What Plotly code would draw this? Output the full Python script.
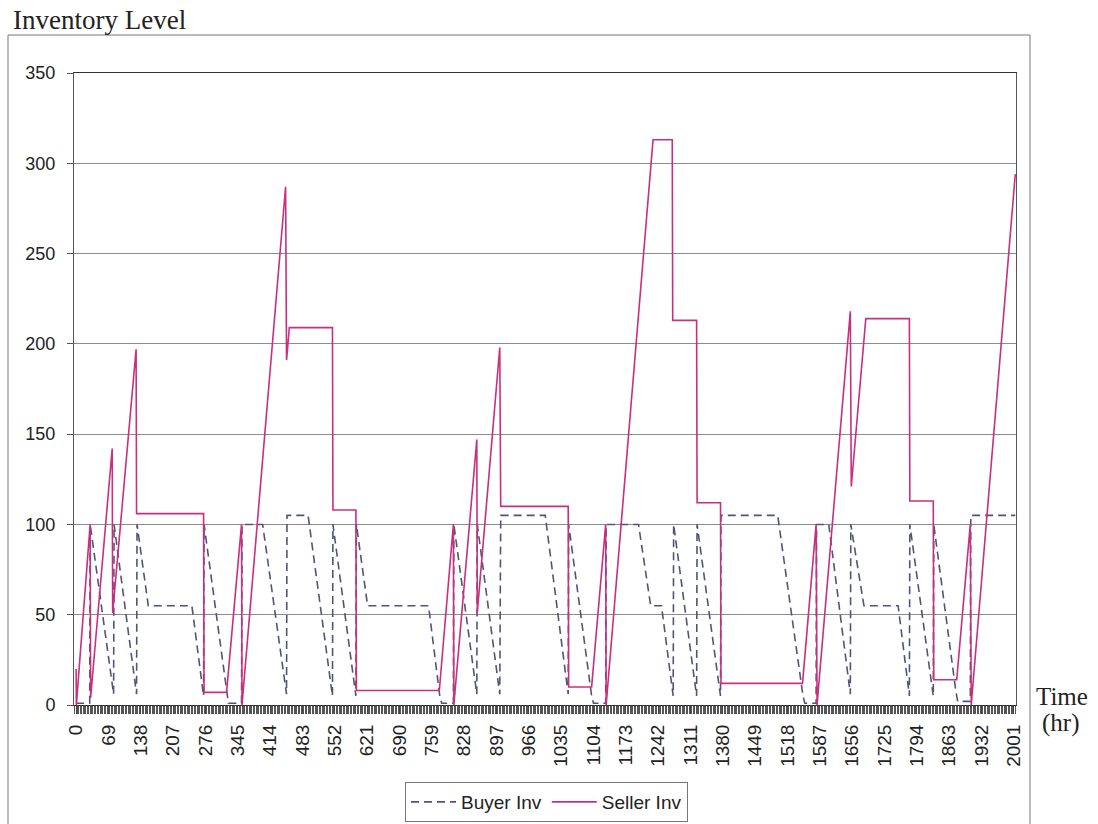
import plotly.graph_objects as go

# ---- data ----
seller_t = [0, 0.5, 30, 31, 77, 78, 128, 129, 272, 273, 321, 353, 354, 447, 449, 455,
            547, 548, 597, 598, 775, 805, 806, 855, 856, 904, 906, 1050, 1051, 1100,
            1130, 1131, 1231, 1272, 1273, 1324, 1325, 1375, 1376, 1550, 1579, 1581,
            1652, 1654, 1685, 1778, 1779, 1829, 1830, 1879, 1908, 1910, 2004]
seller_v = [20, 0, 100, 4, 142, 51, 197, 106, 106, 7, 7, 100, 0, 287, 191, 209,
            209, 108, 108, 8, 8, 100, 0, 147, 51, 198, 110, 110, 10, 10,
            100, 0, 313, 313, 213, 213, 112, 112, 12, 12, 100, 0,
            218, 121, 214, 214, 113, 113, 14, 14, 100, 0, 294]

buyer_t = [0, 29, 30, 80, 81, 129, 130, 154, 247, 272, 273, 321, 325, 353, 354, 398,
           449, 450, 495, 547, 548, 597, 598, 622, 752, 776, 780, 805, 806, 855, 856,
           904, 906, 1001, 1050, 1051, 1100, 1104, 1130, 1131, 1200, 1226, 1249, 1274,
           1275, 1324, 1325, 1375, 1376, 1497, 1551, 1555, 1579, 1580, 1606, 1652, 1653,
           1681, 1754, 1778, 1779, 1829, 1830, 1877, 1881, 1908, 1909, 2004]
buyer_v = [1, 1, 100, 6, 100, 6, 100, 55, 55, 5, 100, 7, 1, 1, 100, 100,
           6, 105, 105, 5, 100, 5, 100, 55, 55, 5, 1, 1, 100, 6, 100,
           6, 105, 105, 6, 100, 5, 1, 1, 100, 100, 55, 55, 5,
           100, 5, 100, 5, 105, 105, 5, 1, 1, 100, 100, 6, 100,
           55, 55, 5, 100, 5, 100, 8, 2, 2, 105, 105]

x_ticks = list(range(0, 2002, 69))
y_ticks = [0, 50, 100, 150, 200, 250, 300, 350]

# ---- figure ----
W, H = 1098, 824
L, R, T, B = 74, 1016, 73, 705
pw, ph = R - L, B - T

def px(xp):
    return (xp - L) / pw

def py(yp):
    return (B - yp) / ph

fig = go.Figure()
fig.add_trace(go.Scatter(
    x=buyer_t, y=buyer_v, mode="lines", name="Buyer Inv",
    line=dict(color="#505578", width=1.6, dash="8px,5px"),
))
fig.add_trace(go.Scatter(
    x=seller_t, y=seller_v, mode="lines", name="Seller Inv",
    line=dict(color="#C8307E", width=1.6),
))

fig.update_layout(
    width=W, height=H,
    margin=dict(l=L, r=W - R, t=T, b=H - B, pad=0, autoexpand=False),
    paper_bgcolor="white", plot_bgcolor="white",
    showlegend=True,
    legend=dict(
        orientation="h", xref="container", yref="container",
        x=405 / W, y=1 - 782 / H, xanchor="left", yanchor="top",
        bordercolor="#777777", borderwidth=1,
        font=dict(family="Arial, Liberation Sans, sans-serif", size=19, color="#222222"),
        itemwidth=45, tracegroupgap=0,
    ),
    xaxis=dict(
        range=[-4.5, 2005.5], tickmode="array", tickvals=x_ticks,
        ticktext=[str(v) for v in x_ticks], tickangle=-90,
        showgrid=False, zeroline=False, automargin=False,
        showline=True, linecolor="#333333", linewidth=1, mirror=True,
        ticks="outside", ticklen=8, tickcolor="#444444",
        ticklabelstandoff=3,
        minor=dict(dtick=3, tick0=0, ticks="outside", ticklen=8, tickcolor="#555555", tickwidth=1),
        tickfont=dict(family="Arial, Liberation Sans, sans-serif", size=19, color="#222222"),
    ),
    yaxis=dict(
        range=[0, 350], tickmode="array", tickvals=y_ticks,
        showgrid=True, gridcolor="#8c8c8c", gridwidth=1, automargin=False,
        zeroline=False, showline=True, linecolor="#555555", linewidth=1, mirror=True,
        ticks="outside", ticklen=6, tickcolor="#555555",
        ticklabelstandoff=8,
        tickfont=dict(family="Arial, Liberation Sans, sans-serif", size=18, color="#222222"),
    ),
    shapes=[dict(
        type="rect", xref="paper", yref="paper",
        x0=px(8), x1=px(1030), y0=py(840), y1=py(35),
        line=dict(color="#777777", width=1), fillcolor="rgba(0,0,0,0)", layer="below",
    )],
    annotations=[
        dict(text="Inventory Level", xref="paper", yref="paper", x=px(11), y=py(20),
             xanchor="left", yanchor="middle", showarrow=False,
             font=dict(family="Liberation Serif, Times New Roman, serif", size=27, color="#222222")),
        dict(text="Time", xref="paper", yref="paper", x=px(1062), y=py(696),
             xanchor="center", yanchor="middle", showarrow=False,
             font=dict(family="Liberation Serif, Times New Roman, serif", size=25, color="#222222")),
        dict(text="(hr)", xref="paper", yref="paper", x=px(1060), y=py(723),
             xanchor="center", yanchor="middle", showarrow=False,
             font=dict(family="Liberation Serif, Times New Roman, serif", size=25, color="#222222")),
    ],
)

fig.write_html("out.html")
